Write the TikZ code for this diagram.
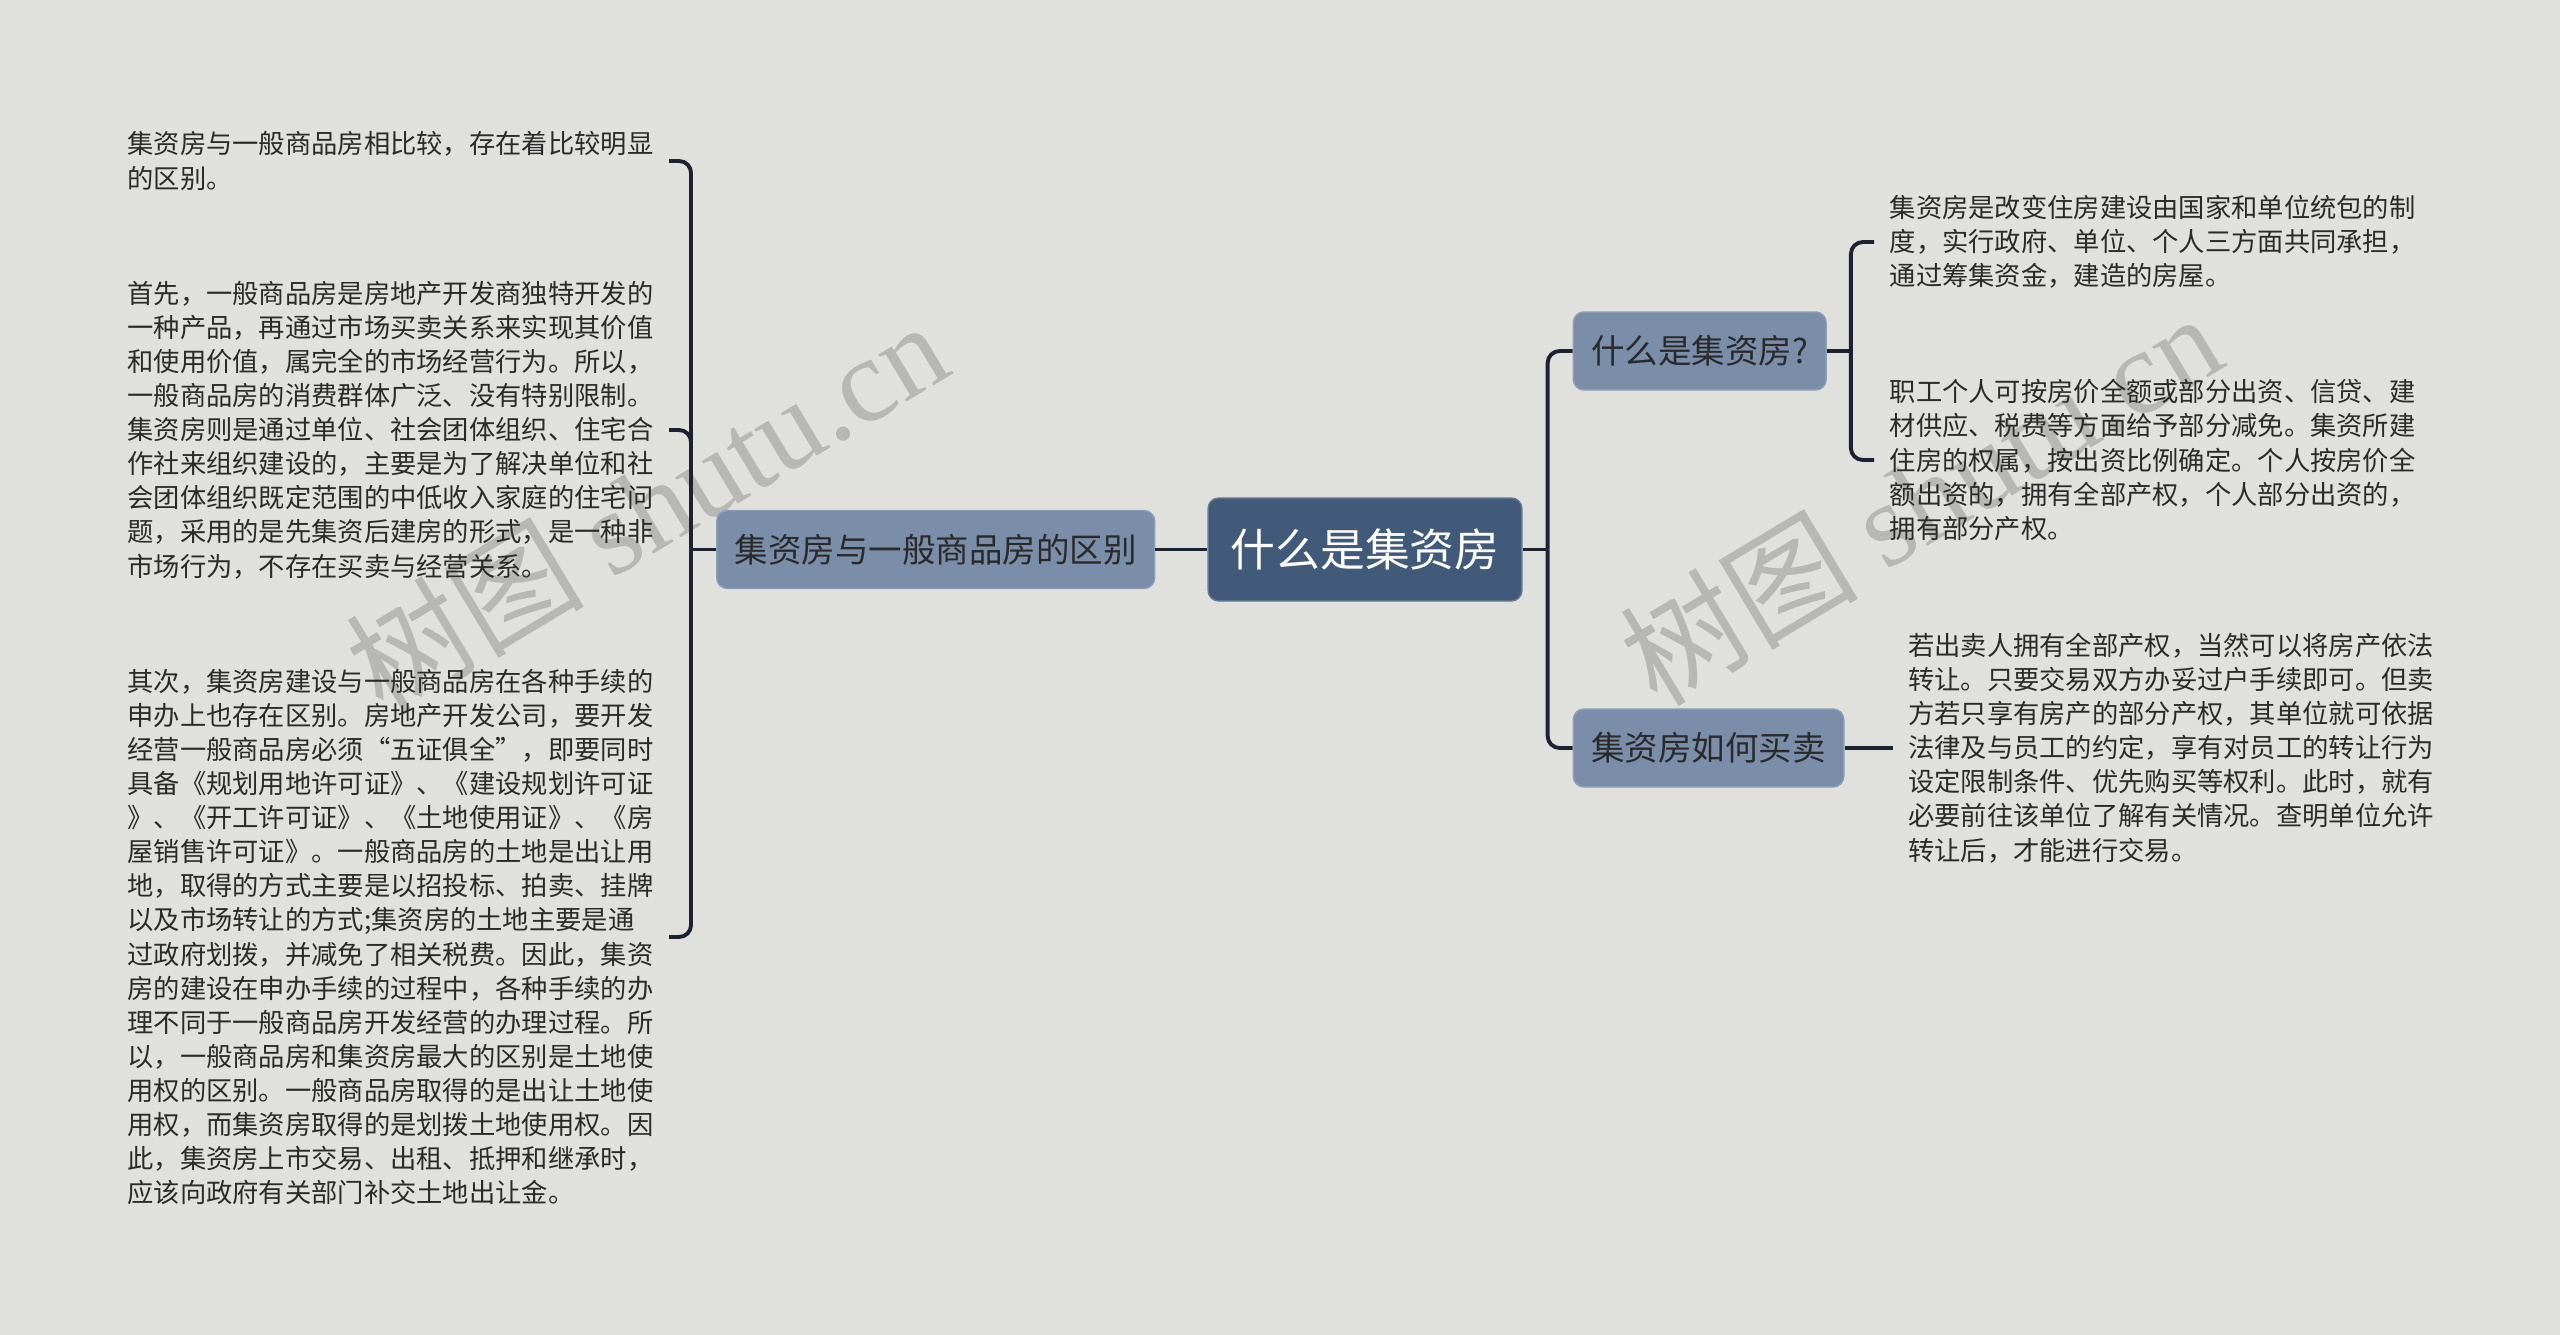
\documentclass[tikz,border=0pt]{standalone}
\usepackage{fontspec}
\setmainfont{Noto Sans CJK SC}
\newfontfamily\wmlatin{Liberation Serif}
\usetikzlibrary{positioning}
\definecolor{canvasbg}{HTML}{E0E1DC}
\definecolor{rootblue}{HTML}{425A7A}
\definecolor{branchblue}{HTML}{7A8DA9}
\definecolor{linkdark}{HTML}{1B2232}
\definecolor{txtgray}{HTML}{2A2A2A}
\definecolor{wmgray}{HTML}{B7B8B3}

\begin{document}
\begin{tikzpicture}[
  x=0.1mm, y=-0.1mm,
  rootbox/.style={fill=rootblue, draw=rootblue!80!white, line width=0.4pt, rounded corners=3pt, minimum height=10.3mm, inner xsep=2.25mm, text=white, font=\fontsize{12.75pt}{15pt}\selectfont},
  branch/.style={fill=branchblue, draw=branchblue!85!white, line width=0.4pt, rounded corners=3pt, minimum height=7.8mm, inner xsep=1.8mm, text=txtgray, font=\fontsize{9.53pt}{11pt}\selectfont},
  leaf/.style={align=left, inner xsep=1.5mm, inner ysep=0pt, text=txtgray, font=\fontsize{7.48pt}{9.7pt}\selectfont},
  link/.style={draw=linkdark, line width=1.1pt, rounded corners=1.2mm},
  wmark/.style={text=wmgray, rotate=31, font=\fontsize{34pt}{34pt}\selectfont}
]
\fill[canvasbg] (0,0) rectangle (2560,1335);
\useasboundingbox (0,0) rectangle (2560,1335);

\node[wmark] (wm1) at (646,506) {树图 {\wmlatin shutu.cn}};
\node[wmark] (wm2) at (1920,498) {树图 {\wmlatin shutu.cn}};

\node[rootbox] (root) at (1365,549.5) {什么是集资房};
\node[branch, left=5.2mm of root] (diff) {集资房与一般商品房的区别};
\node[branch, right=5mm of root.east, yshift=19.85mm] (what) {什么是集资房?};
\node[branch, right=5mm of root.east, yshift=-19.85mm] (how) {集资房如何买卖};

\node[leaf, anchor=east] (t1) at (669,161) {集资房与一般商品房相比较，存在着比较明显\\的区别。};
\node[leaf, anchor=east] (t2) at (669,430) {首先，一般商品房是房地产开发商独特开发的\\一种产品，再通过市场买卖关系来实现其价值\\和使用价值，属完全的市场经营行为。所以，\\一般商品房的消费群体广泛、没有特别限制。\\集资房则是通过单位、社会团体组织、住宅合\\作社来组织建设的，主要是为了解决单位和社\\会团体组织既定范围的中低收入家庭的住宅问\\题，采用的是先集资后建房的形式，是一种非\\市场行为，不存在买卖与经营关系。};
\node[leaf, anchor=east] (t3) at (669,937) {其次，集资房建设与一般商品房在各种手续的\\申办上也存在区别。房地产开发公司，要开发\\经营一般商品房必须“五证俱全”，即要同时\\具备《规划用地许可证》、《建设规划许可证\\》、《开工许可证》、《土地使用证》、《房\\屋销售许可证》。一般商品房的土地是出让用\\地，取得的方式主要是以招投标、拍卖、挂牌\\以及市场转让的方式;集资房的土地主要是通\\过政府划拨，并减免了相关税费。因此，集资\\房的建设在申办手续的过程中，各种手续的办\\理不同于一般商品房开发经营的办理过程。所\\以，一般商品房和集资房最大的区别是土地使\\用权的区别。一般商品房取得的是出让土地使\\用权，而集资房取得的是划拨土地使用权。因\\此，集资房上市交易、出租、抵押和继承时，\\应该向政府有关部门补交土地出让金。};
\node[leaf, anchor=west] (ta) at (1874,242) {集资房是改变住房建设由国家和单位统包的制\\度，实行政府、单位、个人三方面共同承担，\\通过筹集资金，建造的房屋。};
\node[leaf, anchor=west] (tb) at (1874,460) {职工个人可按房价全额或部分出资、信贷、建\\材供应、税费等方面给予部分减免。集资所建\\住房的权属，按出资比例确定。个人按房价全\\额出资的，拥有全部产权，个人部分出资的，\\拥有部分产权。};
\node[leaf, right=4.8mm of how] (tc) {若出卖人拥有全部产权，当然可以将房产依法\\转让。只要交易双方办妥过户手续即可。但卖\\方若只享有房产的部分产权，其单位就可依据\\法律及与员工的约定，享有对员工的转让行为\\设定限制条件、优先购买等权利。此时，就有\\必要前往该单位了解有关情况。查明单位允许\\转让后，才能进行交易。};

\draw[link] (root) -- (diff);
\draw[link] (diff.west) -- ++(-2.5mm,0) coordinate (lj);
\draw[link] (lj) |- (t1.east);
\draw[link] (lj) |- (t2.east);
\draw[link] (lj) |- (t3.east);
\draw[link] (root.east) -- ++(2.5mm,0) coordinate (rj);
\draw[link] (rj) |- (what.west);
\draw[link] (rj) |- (how.west);
\draw[link] (what.east) -- ++(2.4mm,0) coordinate (wj);
\draw[link] (wj) |- (ta.west);
\draw[link] (wj) |- (tb.west);
\draw[link] (how) -- (tc);
\end{tikzpicture}
\end{document}
